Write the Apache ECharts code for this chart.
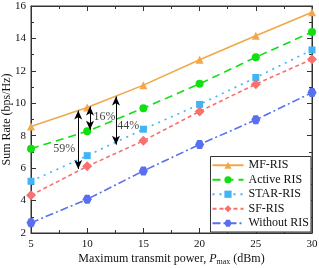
<!DOCTYPE html>
<html><head><meta charset="utf-8">
<script src="https://cdn.jsdelivr.net/npm/echarts@6/dist/echarts.min.js"></script>
<style>html,body{margin:0;padding:0;background:#fff}#c{width:319px;height:268px}</style>
</head><body><div id="c"></div>
<script>
const xVals = [5, 10, 15, 20, 25, 30];
const mfRis = [8.57, 9.74, 11.12, 12.68, 14.17, 15.61];
const activeRis = [7.2, 8.27, 9.7, 11.2, 12.84, 14.4];
const starRis = [5.19, 6.77, 8.4, 9.93, 11.59, 13.29];
const sfRis = [4.33, 6.11, 7.69, 9.5, 11.18, 12.72];
const withoutRis = [2.63, 4.08, 5.83, 7.46, 8.98, 10.66];
const seriesNames = ['MF-RIS', 'Active RIS', 'STAR-RIS', 'SF-RIS', 'Without RIS'];
const arrows = [[[9.2, 9.55], [9.2, 5.95]], [[10.25, 9.8], [10.25, 8.37]], [[12.56, 10.42], [12.56, 7.45]]];
const arrowLabels = ['59%', '16%', '44%'];
const labelPos = [[7.95, 7.2], [11.55, 9.17], [13.65, 8.6]];

const font = 'Liberation Serif, Times New Roman, serif';
const pair = v => xVals.map((x, i) => [x, v[i]]);
const hex = 'path://M-1,0 L-0.5,-0.866 L0.5,-0.866 L1,0 L0.5,0.866 L-0.5,0.866 Z';
const cfg = [
  {d: mfRis, c: '#f0a848', t: 'solid', s: 'triangle', z: 8},
  {d: activeRis, c: '#10e010', t: [8, 5], s: 'circle', z: 8},
  {d: starRis, c: '#40b4f4', t: [2, 5], s: 'rect', z: 7},
  {d: sfRis, c: '#f87070', t: [4, 3], s: 'diamond', z: 10},
  {d: withoutRis, c: '#5870f0', t: [8, 3, 2, 3], s: hex, z: 9}
];
const series = cfg.map((o, i) => ({
  name: seriesNames[i], type: 'line', data: pair(o.d), symbol: o.s, symbolSize: o.z,
  lineStyle: {color: o.c, width: 1.6, type: o.t}, itemStyle: {color: o.c}, z: 3
}));
series[0].markLine = {
  silent: true, symbol: ['arrow', 'arrow'], symbolSize: [6, 9],
  lineStyle: {color: '#000', width: 1, type: 'solid'}, label: {show: false},
  data: arrows.map(a => [{coord: a[0]}, {coord: a[1]}])
};
series.push({
  name: 'annot', type: 'scatter', symbolSize: 0, silent: true,
  data: labelPos.map((p, i) => ({value: p, label: {formatter: arrowLabels[i]}})),
  label: {show: true, position: 'inside', color: '#111', fontFamily: font, fontSize: 12}
});
const chart = echarts.init(document.getElementById('c'), null, {renderer: 'canvas'});
const tickBase = {show: true, inside: true, length: 5, lineStyle: {color: '#333'}};
chart.setOption({
  animation: false,
  grid: {left: 31, right: 7, top: 6, bottom: 35, containLabel: false, outerBoundsMode: 'none',
    show: true, borderColor: '#333', borderWidth: 1},
  legend: {
    data: seriesNames, orient: 'vertical', right: 8, bottom: 36, itemWidth: 31, itemHeight: 9,
    itemGap: 1, padding: [2, 2, 2, 1], borderColor: '#333', borderWidth: 1, backgroundColor: '#fff',
    textStyle: {fontFamily: font, fontSize: 12, color: '#111', lineHeight: 13.5}, z: 20
  },
  xAxis: [{
    type: 'value', min: 5, max: 30, interval: 5,
    axisLine: {show: true, lineStyle: {color: '#333'}}, axisTick: tickBase,
    minorTick: {show: true, splitNumber: 2, length: 3, lineStyle: {color: '#333'}},
    splitLine: {show: false},
    axisLabel: {fontFamily: font, fontSize: 11, color: '#111', margin: 6},
    name: '{a|Maximum transmit power, }{i|P}{s|max}{a| (dBm)}', nameLocation: 'middle', nameGap: 19,
    nameMoveOverlap: false,
    nameTextStyle: {rich: {
      a: {fontFamily: font, fontSize: 12, color: '#111'},
      i: {fontFamily: font, fontSize: 12, fontStyle: 'italic', color: '#111'},
      s: {fontFamily: font, fontSize: 8, color: '#111', verticalAlign: 'bottom', padding: [6, 0, 0, 0]}
    }}
  }, {
    type: 'value', position: 'top', min: 5, max: 30, interval: 5,
    axisLine: {show: true, lineStyle: {color: '#333'}}, axisTick: tickBase,
    minorTick: {show: true, splitNumber: 2, length: 3, lineStyle: {color: '#333'}},
    splitLine: {show: false}, axisLabel: {show: false}
  }],
  yAxis: [{
    type: 'value', min: 2, max: 16, interval: 2,
    axisLine: {show: true, lineStyle: {color: '#333'}}, axisTick: tickBase,
    minorTick: {show: true, splitNumber: 2, length: 3, lineStyle: {color: '#333'}},
    splitLine: {show: false},
    axisLabel: {fontFamily: font, fontSize: 11, color: '#111', margin: 5},
    name: 'Sum Rate (bps/Hz)', nameLocation: 'middle', nameGap: 18.5, nameMoveOverlap: false,
    nameTextStyle: {fontFamily: font, fontSize: 12, color: '#111'}
  }, {
    type: 'value', position: 'right', min: 2, max: 16, interval: 2,
    axisLine: {show: true, lineStyle: {color: '#333'}}, axisTick: tickBase,
    minorTick: {show: true, splitNumber: 2, length: 3, lineStyle: {color: '#333'}},
    splitLine: {show: false}, axisLabel: {show: false}
  }],
  series: series
});
</script></body></html>
